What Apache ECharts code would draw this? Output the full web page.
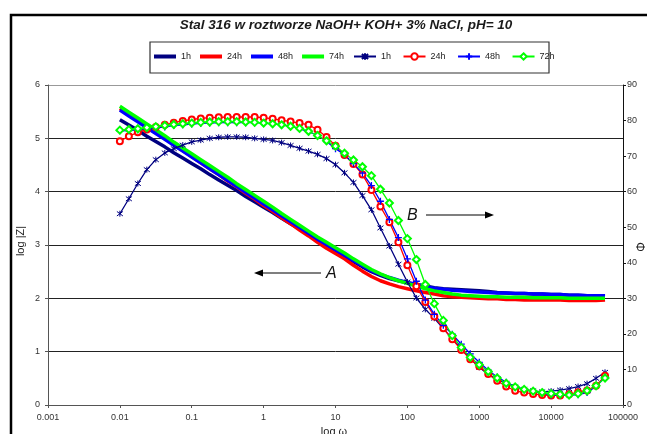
<!DOCTYPE html>
<html>
<head>
<meta charset="utf-8">
<script src="https://cdn.jsdelivr.net/npm/echarts@6/dist/echarts.min.js"></script>
<style>html,body{margin:0;padding:0;background:#fff;}#c{width:647px;height:434px;}</style>
</head>
<body>
<div id="c"></div>
<script>
// Frequencies (omega), log-spaced
const freqs = [
  0.01, 0.01334, 0.01778, 0.02371, 0.03162, 0.04217, 0.05623, 0.07499,
  0.1, 0.1334, 0.1778, 0.2371, 0.3162, 0.4217, 0.5623, 0.7499,
  1, 1.334, 1.778, 2.371, 3.162, 4.217, 5.623, 7.499,
  10, 13.34, 17.78, 23.71, 31.62, 42.17, 56.23, 74.99,
  100, 133.4, 177.8, 237.1, 316.2, 421.7, 562.3, 749.9,
  1000, 1334, 1778, 2371, 3162, 4217, 5623, 7499,
  10000, 13340, 17780, 23710, 31620, 42170, 56230
];
const xTickLabels = ['0.001','0.01','0.1','1','10','100','1000','10000','100000'];

// log |Z| series (left axis)
const zNavy1h = [
  5.35,5.25,5.15,5.04,4.94,4.84,4.73,4.63,
  4.53,4.43,4.32,4.22,4.12,4.02,3.91,3.81,
  3.71,3.61,3.50,3.40,3.30,3.19,3.09,2.99,
  2.89,2.79,2.69,2.59,2.50,2.43,2.37,2.33,
  2.29,2.26,2.23,2.20,2.18,2.17,2.16,2.15,
  2.14,2.13,2.11,2.10,2.09,2.09,2.08,2.08,
  2.07,2.07,2.06,2.06,2.05,2.05,2.04
];
const zRed24h = [
  5.56,5.45,5.34,5.22,5.11,5.00,4.88,4.77,
  4.66,4.54,4.43,4.32,4.20,4.09,3.97,3.86,
  3.74,3.63,3.51,3.40,3.28,3.17,3.05,2.94,
  2.84,2.74,2.62,2.51,2.41,2.33,2.27,2.22,
  2.18,2.14,2.11,2.08,2.05,2.03,2.02,2.01,
  2.00,1.99,1.99,1.98,1.98,1.97,1.97,1.97,
  1.97,1.97,1.96,1.96,1.96,1.96,1.97
];
const zBlue48h = [
  5.53,5.42,5.31,5.20,5.09,4.98,4.87,4.76,
  4.65,4.54,4.43,4.32,4.21,4.10,3.99,3.88,
  3.77,3.66,3.55,3.44,3.33,3.22,3.11,3.01,
  2.91,2.81,2.71,2.61,2.52,2.45,2.39,2.34,
  2.30,2.26,2.22,2.19,2.17,2.15,2.14,2.13,
  2.12,2.11,2.10,2.10,2.09,2.09,2.08,2.08,
  2.07,2.07,2.06,2.06,2.05,2.05,2.05
];
const zGreen74h = [
  5.60,5.49,5.38,5.27,5.16,5.05,4.93,4.82,
  4.71,4.60,4.49,4.38,4.27,4.15,4.04,3.93,
  3.82,3.71,3.59,3.48,3.37,3.26,3.15,3.05,
  2.95,2.85,2.74,2.64,2.54,2.46,2.39,2.33,
  2.28,2.23,2.18,2.14,2.11,2.08,2.06,2.05,
  2.04,2.03,2.03,2.02,2.02,2.02,2.01,2.01,
  2.01,2.01,2.00,2.00,2.00,2.00,2.00
];

// phase series (right axis, degrees)
const pNavy1h = [
  53.8,58.0,62.3,66.2,69.0,70.9,72.1,73.1,
  74.0,74.5,75.0,75.3,75.4,75.4,75.3,75.0,
  74.7,74.4,73.8,73.0,72.2,71.4,70.5,69.3,
  67.6,65.3,62.6,58.9,54.9,49.8,44.7,39.6,
  34.6,30.1,26.9,24.4,21.5,18.6,15.9,13.0,
  10.6,8.6,7.2,6.1,5.1,4.4,4.0,3.7,
  3.9,4.2,4.6,5.2,6.0,7.5,9.2
];
const pRed24h = [
  74.2,75.6,76.7,77.5,78.2,78.8,79.4,79.9,
  80.3,80.6,80.8,80.9,81.0,81.0,81.0,81.0,
  80.8,80.5,80.1,79.7,79.3,78.8,77.4,75.4,
  72.9,70.3,67.8,64.8,60.5,55.8,51.4,45.8,
  39.3,33.4,29.0,24.9,21.6,18.5,15.5,12.9,
  10.9,8.7,6.8,5.2,4.0,3.5,3.1,2.8,
  2.7,2.7,3.0,3.6,4.1,5.4,8.2
];
const pBlue48h = [
  77.1,77.2,77.4,77.6,77.9,78.2,78.6,78.8,
  79.0,79.2,79.3,79.4,79.4,79.4,79.4,79.4,
  79.3,79.1,78.8,78.4,77.7,76.8,75.9,74.1,
  72.1,70.4,67.9,65.2,61.7,57.3,52.2,47.1,
  41.1,34.8,29.5,25.5,22.4,19.9,17.1,14.4,
  12.0,9.8,7.9,6.4,5.2,4.3,3.8,3.3,
  2.8,2.7,2.7,2.9,3.5,5.2,7.8
];
const pGreen72h = [
  77.3,77.5,77.7,78.0,78.3,78.6,78.9,79.1,
  79.3,79.5,79.6,79.7,79.7,79.7,79.6,79.5,
  79.3,79.1,78.8,78.4,77.8,77.0,75.8,74.3,
  72.8,70.8,68.9,67.0,64.5,60.7,56.8,51.9,
  46.8,40.9,33.9,28.5,23.8,19.5,16.2,13.4,
  11.3,9.4,7.6,6.1,5.1,4.4,3.9,3.5,
  3.2,3.0,2.8,3.2,4.0,5.4,7.6
];

const zNames = ['1h', '24h', '48h', '74h'];
const pNames = ['1h ', '24h ', '48h ', '72h'];

const pair = (arr) => freqs.map((f, i) => [f, arr[i]]);
const FONT = 'Liberation Sans, Arial, sans-serif';

const zLine = (name, color, arr) => ({
  name, type: 'line', yAxisIndex: 0, data: pair(arr), symbol: 'none',
  lineStyle: { color, width: 3.5 }, itemStyle: { color }, z: 2, animation: false
});
const pLine = (name, color, arr, symbol, size, extra) => ({
  name, type: 'line', yAxisIndex: 1, data: pair(arr), symbol, symbolSize: size,
  showAllSymbol: true,
  lineStyle: { color, width: 1.3 },
  itemStyle: Object.assign({ color, borderColor: color, borderWidth: 1 }, extra || {}),
  z: 3, animation: false
});

const legendText = { fontFamily: FONT, fontSize: 9, color: '#222' };

const chart = echarts.init(document.getElementById('c'), null, { renderer: 'canvas' });
chart.setOption({
  animation: false,
  backgroundColor: '#fff',
  title: {
    text: 'Stal 316 w roztworze NaOH+ KOH+ 3% NaCl, pH= 10',
    left: 341, top: 13, textAlign: 'center',
    textStyle: { fontFamily: FONT, fontSize: 13.5, fontWeight: 'bold', fontStyle: 'italic', color: '#1a1a1a' }
  },
  legend: [
    {
      left: 154, top: 52, padding: 0, itemWidth: 22, itemHeight: 4, itemGap: 9,
      icon: 'rect', textStyle: legendText, data: zNames
    },
    {
      left: 353, top: 52, padding: 0, itemWidth: 22, itemHeight: 8, itemGap: 9,
      textStyle: legendText, data: pNames
    }
  ],
  grid: { left: 48, right: 24, top: 85, bottom: 29 },
  xAxis: {
    type: 'log', logBase: 10, min: 0.001, max: 100000, interval: 1,
    axisLine: { lineStyle: { color: '#555', width: 1 } },
    axisTick: { show: true, length: 3, lineStyle: { color: '#555' } },
    minorTick: { show: false },
    splitLine: { show: false },
    axisLabel: {
      fontFamily: FONT, fontSize: 9, color: '#333', margin: 8,
      formatter: (v) => xTickLabels[Math.round(Math.log10(v)) + 3]
    }
  },
  yAxis: [
    {
      type: 'value', min: 0, max: 6, interval: 1, position: 'left',
      axisLine: { show: true, lineStyle: { color: '#555' } },
      axisTick: { show: true, length: 3, lineStyle: { color: '#555' } },
      splitLine: { show: true, lineStyle: { color: ['#555', '#222', '#222', '#222', '#222', '#222', '#999'], width: 1 } },
      axisLabel: { fontFamily: FONT, fontSize: 9, color: '#333', margin: 8 }
    },
    {
      type: 'value', min: 0, max: 90, interval: 10, position: 'right',
      axisLine: { show: true, lineStyle: { color: '#111' } },
      axisTick: { show: true, length: 3, lineStyle: { color: '#111' } },
      splitLine: { show: false },
      axisLabel: { fontFamily: FONT, fontSize: 9, color: '#333', margin: 4 }
    }
  ],
  series: [
    zLine(zNames[0], '#000080', zNavy1h),
    zLine(zNames[1], '#ff0000', zRed24h),
    zLine(zNames[2], '#0000ff', zBlue48h),
    zLine(zNames[3], '#00ff00', zGreen74h),
    pLine(pNames[0], '#000080', pNavy1h, 'path://M-3,-3L3,3M-3,3L3,-3M0,-4L0,4', 6, { color: 'rgba(0,0,0,0)' }),
    pLine(pNames[1], '#ff0000', pRed24h, 'emptyCircle', 6),
    pLine(pNames[2], '#0000ff', pBlue48h, 'path://M0,-4L0,4M-4,0L4,0', 7, { color: 'rgba(0,0,0,0)', borderWidth: 1.3 }),
    pLine(pNames[3], '#00ff00', pGreen72h, 'emptyDiamond', 7)
  ],
  graphic: [
    { type: 'rect', shape: { x: 11, y: 15, width: 700, height: 500 }, style: { fill: 'none', stroke: '#000', lineWidth: 2.5 }, silent: true },
    { type: 'rect', shape: { x: 150, y: 42, width: 399, height: 31 }, style: { fill: 'none', stroke: '#333', lineWidth: 1.2 }, silent: true },
    { type: 'text', x: 21, y: 241, rotation: Math.PI / 2, style: { text: 'log |Z|', fontFamily: FONT, fontSize: 11, fill: '#222', textAlign: 'center', textVerticalAlign: 'middle' } },
    { type: 'text', x: 642, y: 247, rotation: Math.PI / 2, style: { text: 'Φ', fontFamily: FONT, fontSize: 12, fill: '#222', textAlign: 'center', textVerticalAlign: 'middle' } },
    { type: 'text', x: 334, y: 426, style: { text: 'log ω', fontFamily: FONT, fontSize: 11, fill: '#222', textAlign: 'center', textVerticalAlign: 'top' } },
    // arrow A
    { type: 'line', shape: { x1: 262, y1: 273, x2: 321, y2: 273 }, style: { stroke: '#000', lineWidth: 1.2 } },
    { type: 'polygon', shape: { points: [[254, 273], [263, 269.5], [263, 276.5]] }, style: { fill: '#000' } },
    { type: 'text', x: 326, y: 274, style: { text: 'A', fontFamily: FONT, fontSize: 16, fontStyle: 'italic', fill: '#111', textAlign: 'left', textVerticalAlign: 'middle' } },
    // arrow B
    { type: 'line', shape: { x1: 426, y1: 215, x2: 485, y2: 215 }, style: { stroke: '#000', lineWidth: 1.2 } },
    { type: 'polygon', shape: { points: [[494, 215], [485, 211.5], [485, 218.5]] }, style: { fill: '#000' } },
    { type: 'text', x: 407, y: 216, style: { text: 'B', fontFamily: FONT, fontSize: 16, fontStyle: 'italic', fill: '#111', textAlign: 'left', textVerticalAlign: 'middle' } }
  ]
});
</script>
</body>
</html>
